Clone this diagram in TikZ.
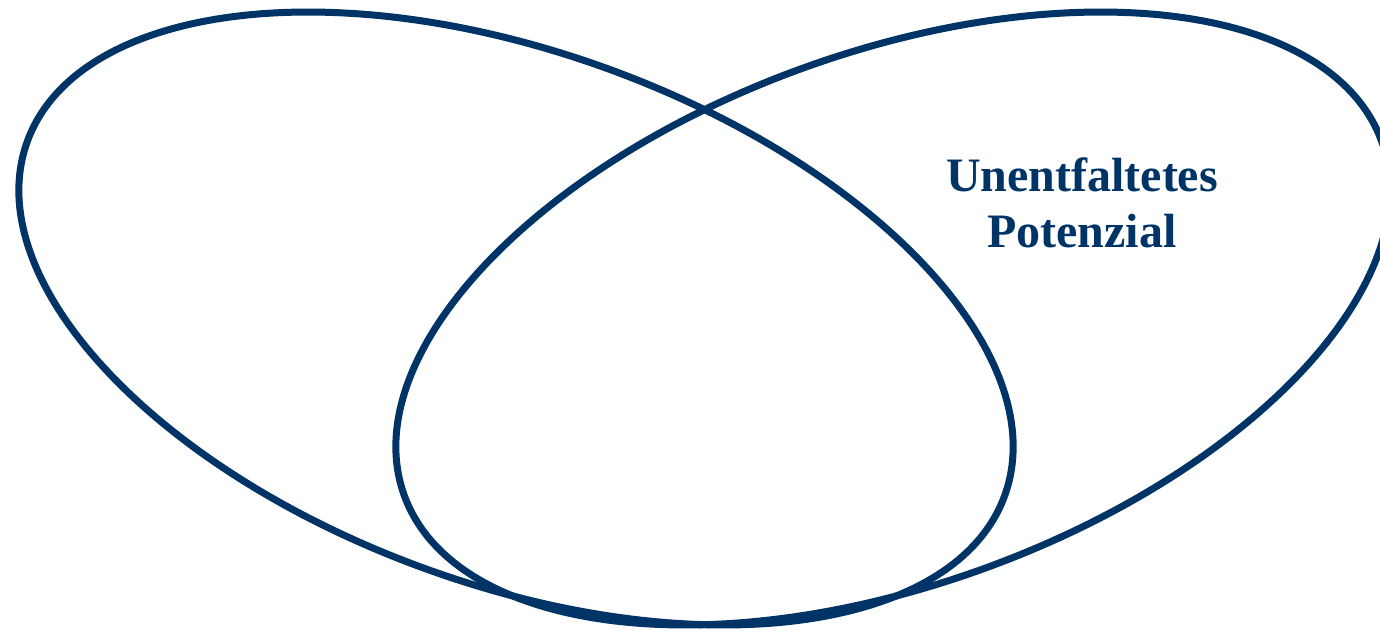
\documentclass[tikz,border=0pt]{standalone}
\usepackage{fontspec}
\setmainfont{Liberation Serif}
\definecolor{navy}{RGB}{0,51,102}
\begin{document}
\begin{tikzpicture}[x=1pt, y=1pt,
  ring/.style={draw=navy, line width=7pt},
  tag/.style={text=navy, font=\fontsize{48}{56}\selectfont\bfseries, align=center, inner sep=0pt},
]
\useasboundingbox (0,0) rectangle (1380,630);

% ---------------------------------------------------------------- left ring
\draw[ring, rotate around={-19.9:(516,311.5)}] (516,311.5) ellipse [x radius=519.8, y radius=266.1];

% ---------------------------------------------------------------- right ring
\draw[ring, rotate around={19.9:(893,311.5)}] (893,311.5) ellipse [x radius=519.8, y radius=266.1];

\node[tag] (potential) at (1082,427.5) {Unentfaltetes\\Potenzial};
\end{tikzpicture}
\end{document}
